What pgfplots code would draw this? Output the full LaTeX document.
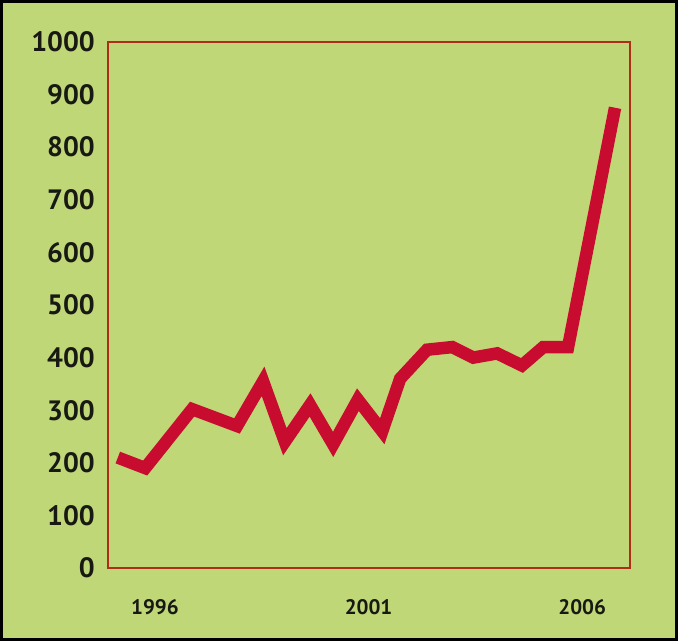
\documentclass[border=0pt]{standalone}
\usepackage{pgfplots}
\pgfplotsset{compat=1.18}
\usepackage{fontspec}
\setmainfont{PT Sans}
\definecolor{bg}{RGB}{192,215,120}
\definecolor{linered}{RGB}{200,12,48}
\definecolor{boxred}{RGB}{175,45,25}
\definecolor{txt}{RGB}{25,25,20}
\begin{document}
\begin{tikzpicture}[x=1pt,y=1pt]
\fill[bg] (0,0) rectangle (678,641);
\draw[black,line width=3pt] (1.5,1.5) rectangle (676.5,639.5);
\begin{axis}[
  at={(108pt,73pt)}, anchor=south west,
  scale only axis, width=522pt, height=526pt,
  xmin=1994.9, xmax=2007.12,
  ymin=0, ymax=1000,
  axis line style={boxred, line width=1.4pt},
  tick style={draw=none},
  xtick={1996,2001,2006},
  xticklabels={1996,2001,2006},
  ytick={0,100,...,1000},
  /pgf/number format/assume math mode=true,
  /pgf/number format/1000 sep={},
  yticklabel style={font=\bfseries\fontsize{28}{28}\selectfont, text=txt, anchor=east, inner sep=0pt, xshift=-13pt},
  xticklabel style={font=\bfseries\fontsize{21}{21}\selectfont, text=txt, anchor=north, inner sep=0pt, yshift=-31pt},
  clip=false,
]
\addplot[linered, line width=12.5pt, line join=miter, miter limit=4] coordinates {
(1995.13,210) (1995.77,190) (1996.87,302) (1997.92,270) (1998.53,355)
(1999.04,240) (1999.63,310) (2000.17,235) (2000.75,320) (2001.32,260)
(2001.74,360) (2002.37,415) (2002.96,420) (2003.45,400) (2004.01,408)
(2004.59,385) (2005.09,420) (2005.67,420) (2006.77,875)
};
\end{axis}
\end{tikzpicture}
\end{document}
